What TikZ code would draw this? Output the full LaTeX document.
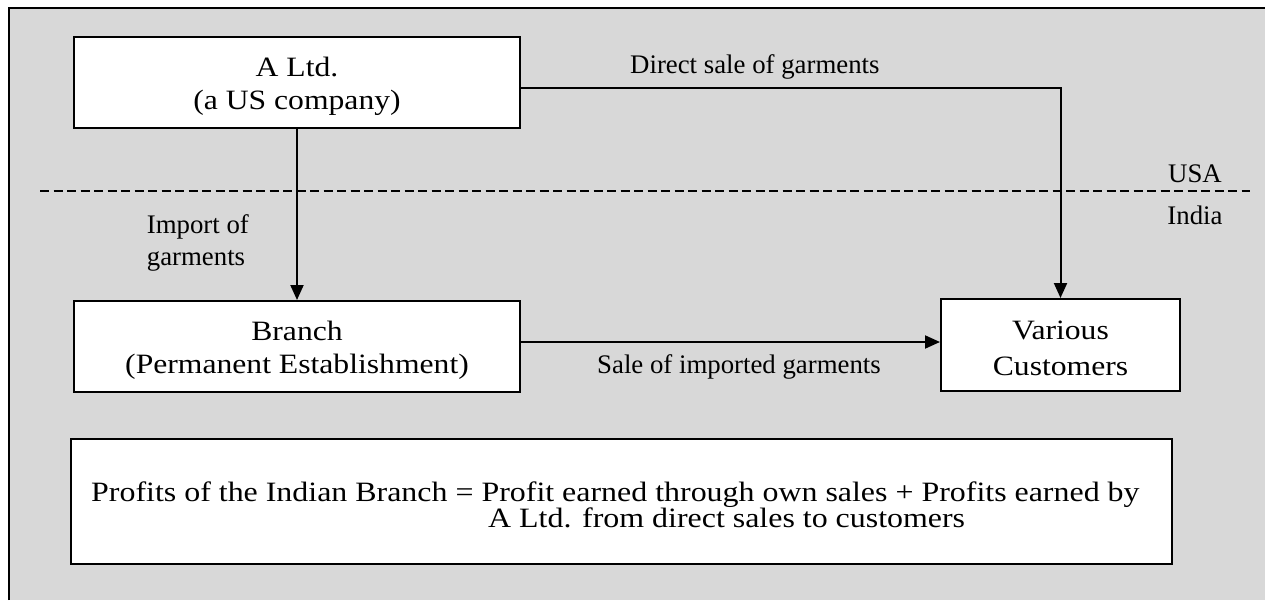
\documentclass[tikz,border=0pt]{standalone}
\usepackage{fontspec}
\setmainfont{Liberation Serif}
\usepackage{graphicx}
\usetikzlibrary{arrows.meta}
\definecolor{bg}{RGB}{216,216,216}
\newcommand\wbox[1]{\scalebox{1.13}[1]{#1}}
\newcommand\wbot[1]{\scalebox{1.14}[1]{#1}}
\begin{document}
\begin{tikzpicture}[x=1pt,y=-1pt,
  boxshape/.style={draw=black, line width=2pt, fill=white, rectangle, inner sep=0pt},
  conn/.style={line width=2pt, -{Triangle[length=15pt,width=13pt]}},
  plainline/.style={line width=2pt},
  border/.style={dash pattern=on 9pt off 4.5pt, line width=2pt},
  boxtxt/.style={font=\fontsize{28}{32}\selectfont, inner sep=0pt, anchor=base},
  bottxt/.style={font=\fontsize{28}{32}\selectfont, inner sep=0pt, anchor=base west},
  lbl/.style={font=\fontsize{26.8}{32}\selectfont, inner sep=0pt, anchor=base west},
]
\useasboundingbox (0,0) rectangle (1265,600);
% background panel
\fill[bg] (9,8) rectangle (1265,600);
\draw[plainline] (9,600) -- (9,8) -- (1265,8);

% boxes
\node[boxshape, minimum width=446pt, minimum height=91pt] (altd) at (297,82.5) {};
\node[boxshape, minimum width=446pt, minimum height=91pt] (branch) at (297,346.5) {};
\node[boxshape, minimum width=239pt, minimum height=92pt] (cust) at (1060.5,345) {};
\node[boxshape, minimum width=1101pt, minimum height=125pt] (profit) at (621.5,501.5) {};

% border line USA / India
\coordinate (dl) at (40,191);
\coordinate (dr) at (1250,191);
\draw[border] (dl) -- (dr);

% connectors
\draw[conn] (altd.south) -- (branch.north);
\coordinate (ds) at (520,88);
\draw[conn] (ds) -| (cust.north);
\coordinate (bs) at (520,342);
\draw[conn] (bs) -- (bs -| cust.west);

% box texts
\node[boxtxt] (t1) at (297,76.7) {\wbox{A Ltd.}};
\node[boxtxt] (t2) at (297,109.3) {\wbox{(a US company)}};
\node[boxtxt] (t3) at (297,340) {\wbox{Branch}};
\node[boxtxt] (t4) at (297,373) {\wbox{(Permanent Establishment)}};
\node[boxtxt] (t5) at (1060.5,339) {\wbox{Various}};
\node[boxtxt] (t6) at (1060.5,375.5) {\wbox{Customers}};

\node[bottxt] (p1) at (91,501) {\wbot{Profits of the Indian Branch = Profit earned through own sales + Profits earned by}};
\node[bottxt] (p2) at (488,527.5) {\wbot{A Ltd. from direct sales to customers}};

% labels
\node[lbl] (l1) at (630,73.3) {Direct sale of garments};
\node[lbl] (l2) at (146.7,233.3) {Import of};
\node[lbl] (l3) at (146.7,265) {garments};
\node[lbl] (l4) at (597,373) {Sale of imported garments};
\node[lbl, anchor=base] (l5) at (1195,182.5) {USA};
\node[lbl, anchor=base] (l6) at (1195,224) {India};
\end{tikzpicture}
\end{document}
